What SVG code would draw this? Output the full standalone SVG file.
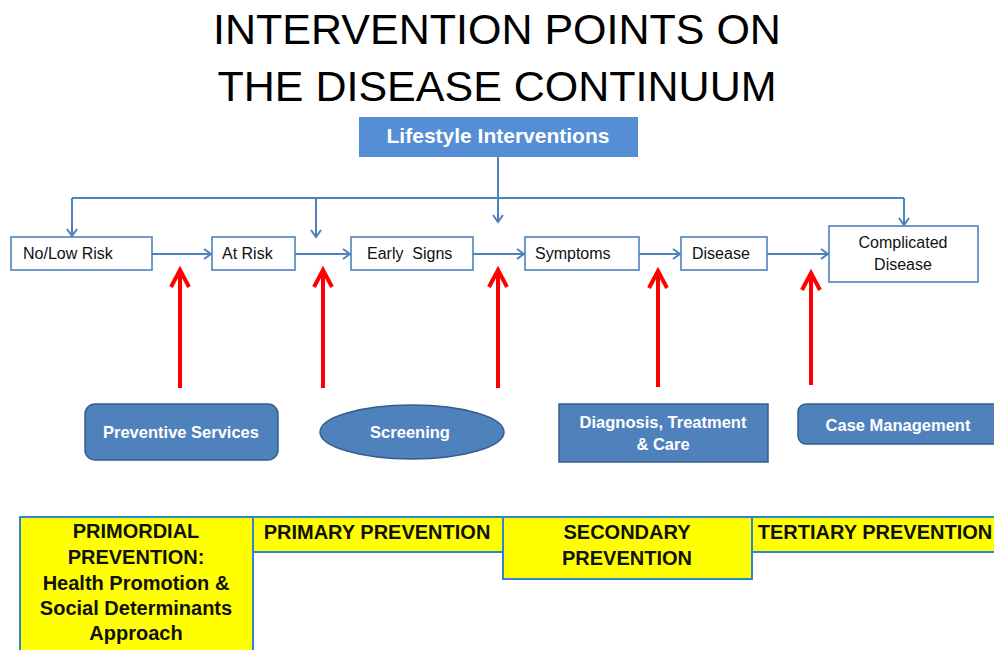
<svg xmlns="http://www.w3.org/2000/svg" width="994" height="650" viewBox="0 0 994 650">
<style>
text{font-family:"Liberation Sans",Arial,sans-serif}
.title{font-size:43px;fill:#000;text-anchor:middle}
.flow rect{fill:#fff;stroke:#4F81BD;stroke-width:1.6}
.flow text{font-size:16px;fill:#111}
.conn{fill:none;stroke:#4F81BD;stroke-width:2}
.red{fill:none;stroke:#FF0000;stroke-width:4}
.svc{fill:#4F81BD;stroke:#385D8A;stroke-width:1.5}
.svct{font-size:16.5px;font-weight:bold;fill:#fff;text-anchor:middle}
.band{fill:#FFFF00;stroke:#2E86D0;stroke-width:2}
.bandt{font-size:20px;font-weight:bold;fill:#111;text-anchor:middle}
</style>
<defs>
<marker id="ab" markerUnits="userSpaceOnUse" markerWidth="12" markerHeight="12" refX="7" refY="5" orient="auto" overflow="visible">
<path d="M0,0 L7,5 L0,10" fill="none" stroke="#4F81BD" stroke-width="2"/>
</marker>
<marker id="ar" markerUnits="userSpaceOnUse" markerWidth="22" markerHeight="22" refX="17" refY="9" orient="auto" overflow="visible">
<path d="M0,0 L17,9 L0,18" fill="none" stroke="#FF0000" stroke-width="4"/>
</marker>
</defs>
<rect width="994" height="650" fill="#fff"/>
<g id="title">
<text class="title" x="497" y="44">INTERVENTION POINTS ON</text>
<text class="title" x="497" y="101">THE DISEASE CONTINUUM</text>
</g>
<g id="lifestyle">
<rect x="359" y="117" width="279" height="40" fill="#558ED5"/>
<text x="498" y="143" font-size="21" font-weight="bold" fill="#fff" text-anchor="middle">Lifestyle Interventions</text>
</g>
<g id="connectors">
<path class="conn" d="M498,157 V222" marker-end="url(#ab)"/>
<path class="conn" d="M72,198 H904"/>
<path class="conn" d="M72,198 V236" marker-end="url(#ab)"/>
<path class="conn" d="M316,198 V237" marker-end="url(#ab)"/>
<path class="conn" d="M904,198 V225" marker-end="url(#ab)"/>
<path class="conn" d="M152,254 H211" marker-end="url(#ab)"/>
<path class="conn" d="M295,254 H350" marker-end="url(#ab)"/>
<path class="conn" d="M473,254 H524" marker-end="url(#ab)"/>
<path class="conn" d="M639,254 H680" marker-end="url(#ab)"/>
<path class="conn" d="M767,254 H828" marker-end="url(#ab)"/>
<path class="red" d="M180,388 V270" marker-end="url(#ar)"/>
<path class="red" d="M323,388 V270" marker-end="url(#ar)"/>
<path class="red" d="M498,388 V270" marker-end="url(#ar)"/>
<path class="red" d="M658,387 V271" marker-end="url(#ar)"/>
<path class="red" d="M811,385 V273" marker-end="url(#ar)"/>
</g>
<g id="no-low-risk" class="flow">
<rect x="11" y="237" width="141" height="33"/>
<text x="23" y="259">No/Low Risk</text>
</g>
<g id="at-risk" class="flow">
<rect x="212" y="237" width="83" height="33"/>
<text x="222" y="259">At Risk</text>
</g>
<g id="early-signs" class="flow">
<rect x="351" y="237" width="122" height="33"/>
<text x="367" y="259" xml:space="preserve">Early  Signs</text>
</g>
<g id="symptoms" class="flow">
<rect x="525" y="237" width="114" height="33"/>
<text x="535" y="259">Symptoms</text>
</g>
<g id="disease" class="flow">
<rect x="681" y="237" width="86" height="33"/>
<text x="692" y="259">Disease</text>
</g>
<g id="complicated-disease" class="flow">
<rect x="829" y="226" width="149" height="56"/>
<text x="903" y="248" text-anchor="middle">Complicated</text>
<text x="903" y="270" text-anchor="middle">Disease</text>
</g>
<g id="preventive-services">
<rect class="svc" x="85" y="404" width="193" height="56" rx="10"/>
<text class="svct" x="181" y="438">Preventive Services</text>
</g>
<g id="screening">
<ellipse class="svc" cx="412" cy="432" rx="92" ry="27"/>
<text class="svct" x="410" y="438">Screening</text>
</g>
<g id="diagnosis">
<rect class="svc" x="559" y="404" width="209" height="58"/>
<text class="svct" x="663" y="428">Diagnosis, Treatment</text>
<text class="svct" x="663" y="450">&amp; Care</text>
</g>
<g id="case-management">
<rect class="svc" x="798" y="404" width="210" height="40" rx="8"/>
<text class="svct" x="898" y="431">Case Management</text>
</g>
<g id="primordial">
<rect class="band" x="20" y="517" width="233" height="145"/>
<text class="bandt" x="136" y="538">PRIMORDIAL</text>
<text class="bandt" x="136" y="564">PREVENTION:</text>
<text class="bandt" x="136" y="590">Health Promotion &amp;</text>
<text class="bandt" x="136" y="615">Social Determinants</text>
<text class="bandt" x="136" y="640">Approach</text>
</g>
<g id="primary">
<rect class="band" x="253" y="517" width="250" height="35"/>
<text class="bandt" x="377" y="539">PRIMARY PREVENTION</text>
</g>
<g id="secondary">
<rect class="band" x="503" y="517" width="249" height="62"/>
<text class="bandt" x="627" y="539">SECONDARY</text>
<text class="bandt" x="627" y="565">PREVENTION</text>
</g>
<g id="tertiary">
<rect class="band" x="752" y="517" width="260" height="35"/>
<text class="bandt" x="875" y="539">TERTIARY PREVENTION</text>
</g>
</svg>
